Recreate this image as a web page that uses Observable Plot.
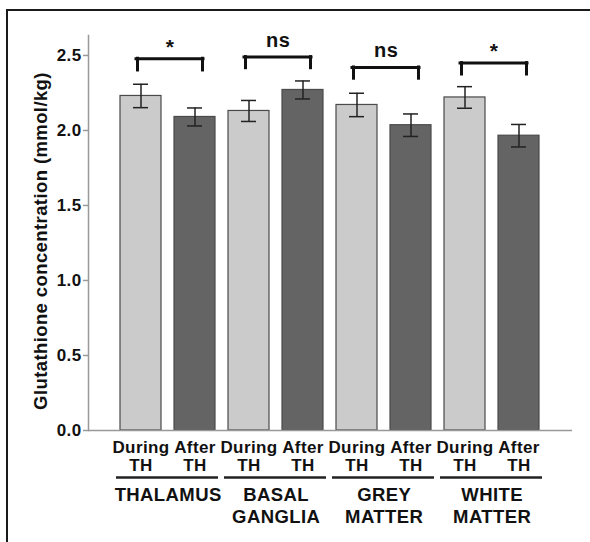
<!DOCTYPE html>
<html>
<head>
<meta charset="utf-8">
<script src="https://cdn.jsdelivr.net/npm/d3@7"></script>
<script src="https://cdn.jsdelivr.net/npm/@observablehq/plot@0.6"></script>
<style>
  html, body { margin: 0; padding: 0; background: #fff; width: 590px; height: 542px; overflow: hidden; }
  #wrap { position: relative; width: 590px; height: 542px; }
  #border { position: absolute; left: 6px; top: 9px; right: -4px; bottom: -4px; border-top: 2px solid #1a1a1a; border-left: 2px solid #1a1a1a; pointer-events: none; }
  #chart svg { display: block; }
</style>
</head>
<body>
<div id="wrap"><div id="chart"></div><div id="border"></div></div>
<script>
// ---- data ----
const regions = ["THALAMUS", "BASAL\nGANGLIA", "GREY\nMATTER", "WHITE\nMATTER"];
const phases = ["During", "After"];
const duringMean = [2.23, 2.13, 2.17, 2.22];
const duringErr  = [0.078, 0.07, 0.078, 0.072];
const afterMean  = [2.09, 2.27, 2.035, 1.965];
const afterErr   = [0.06, 0.06, 0.075, 0.075];
const sigLabels  = ["*", "ns", "ns", "*"];
const bracketTop    = [2.478, 2.489, 2.42, 2.449];
const bracketBottom = [2.40, 2.415, 2.345, 2.373];
const yTicks = [0, 0.5, 1.0, 1.5, 2.0, 2.5];
const yTitle = "Glutathione concentration (mmol/kg)";

// ---- tables ----
const bars = [];
regions.forEach((r, i) => {
  bars.push({key: i + "-During", region: r, phase: "During", mean: duringMean[i], err: duringErr[i]});
  bars.push({key: i + "-After", region: r, phase: "After", mean: afterMean[i], err: afterErr[i]});
});
const groups = regions.map((r, i) => ({
  region: r, first: i + "-During", second: i + "-After",
  sig: sigLabels[i], top: bracketTop[i], bottom: bracketBottom[i]
}));

const light = "#cbcbcb", dark = "#646464";
const font = "'Liberation Sans', Arial, sans-serif";
const halfStep = 27.15;

const chart = Plot.plot({
  width: 590,
  height: 542,
  marginLeft: 88,
  marginRight: 18,
  marginTop: 35,
  marginBottom: 112,
  style: {fontFamily: font, fontWeight: "bold", fontSize: "16px", color: "#111", background: "white", letterSpacing: "0.4px"},
  x: {domain: bars.map(d => d.key), paddingInner: 0.236, paddingOuter: 0.574, axis: null},
  y: {domain: [0, 2.633], axis: null},
  color: {domain: phases, range: [light, dark]},
  marks: [
    Plot.frame({anchor: "left", stroke: "#999", strokeWidth: 1.5}),
    Plot.axisY({ticks: yTicks, tickFormat: d3.format(".1f"), tickSize: 5, tickPadding: 2, stroke: "#999", strokeWidth: 1.5, fill: "#111", fontSize: 17, label: null}),
    Plot.text([yTitle], {text: d => d, frameAnchor: "left", rotate: -90, dx: -47, dy: 8, textAnchor: "middle", lineAnchor: "middle", fontSize: 18.5, fill: "#111"}),
    Plot.barY(bars, {x: "key", y: "mean", fill: "phase", stroke: "#4a4a4a", strokeWidth: 1.2}),
    Plot.ruleY([0], {stroke: "#999", strokeWidth: 1.5}),
    // error bars
    Plot.ruleX(bars, {x: "key", y1: d => d.mean - d.err, y2: d => d.mean + d.err, stroke: "#222", strokeWidth: 1.5}),
    Plot.tickY(bars, {x: "key", y: d => d.mean + d.err, stroke: "#222", strokeWidth: 1.5, insetLeft: 13, insetRight: 13}),
    Plot.tickY(bars, {x: "key", y: d => d.mean - d.err, stroke: "#222", strokeWidth: 1.5, insetLeft: 13, insetRight: 13}),
    // significance brackets
    Plot.ruleY(groups, {x1: "first", x2: "second", y: "top", stroke: "#111", strokeWidth: 3, strokeLinecap: "square", insetLeft: 16, insetRight: 12}),
    Plot.ruleX(groups, {x: "first", y1: "bottom", y2: "top", dx: -3.5, stroke: "#111", strokeWidth: 3, strokeLinecap: "square"}),
    Plot.ruleX(groups, {x: "second", y1: "bottom", y2: "top", dx: 7.5, stroke: "#111", strokeWidth: 3, strokeLinecap: "square"}),
    Plot.text(groups.filter(g => g.sig === "ns"), {x: "first", y: "top", text: "sig", dx: halfStep + 2, dy: -10, lineAnchor: "bottom", fontSize: 20, fill: "#111"}),
    Plot.text(groups.filter(g => g.sig === "*"), {x: "first", y: "top", text: "sig", dx: halfStep + 2, dy: -5, lineAnchor: "bottom", fontSize: 21, fill: "#111"}),
    // category labels
    Plot.text(bars, {x: "key", text: d => d.phase + "\nTH", frameAnchor: "bottom", lineAnchor: "top", dy: 9, lineHeight: 1.1, fontSize: 17, fill: "#111"}),
    Plot.ruleY(groups, {x1: "first", x2: "second", y: () => 0, dy: 47, stroke: "#222", strokeWidth: 2.5, insetLeft: -4, insetRight: -3}),
    Plot.text(groups, {x: "first", text: "region", frameAnchor: "bottom", dx: halfStep, lineAnchor: "top", dy: 55, lineHeight: 1.2, fontSize: 18.5, fill: "#111"})
  ]
});
document.getElementById("chart").appendChild(chart);
</script>
</body>
</html>
